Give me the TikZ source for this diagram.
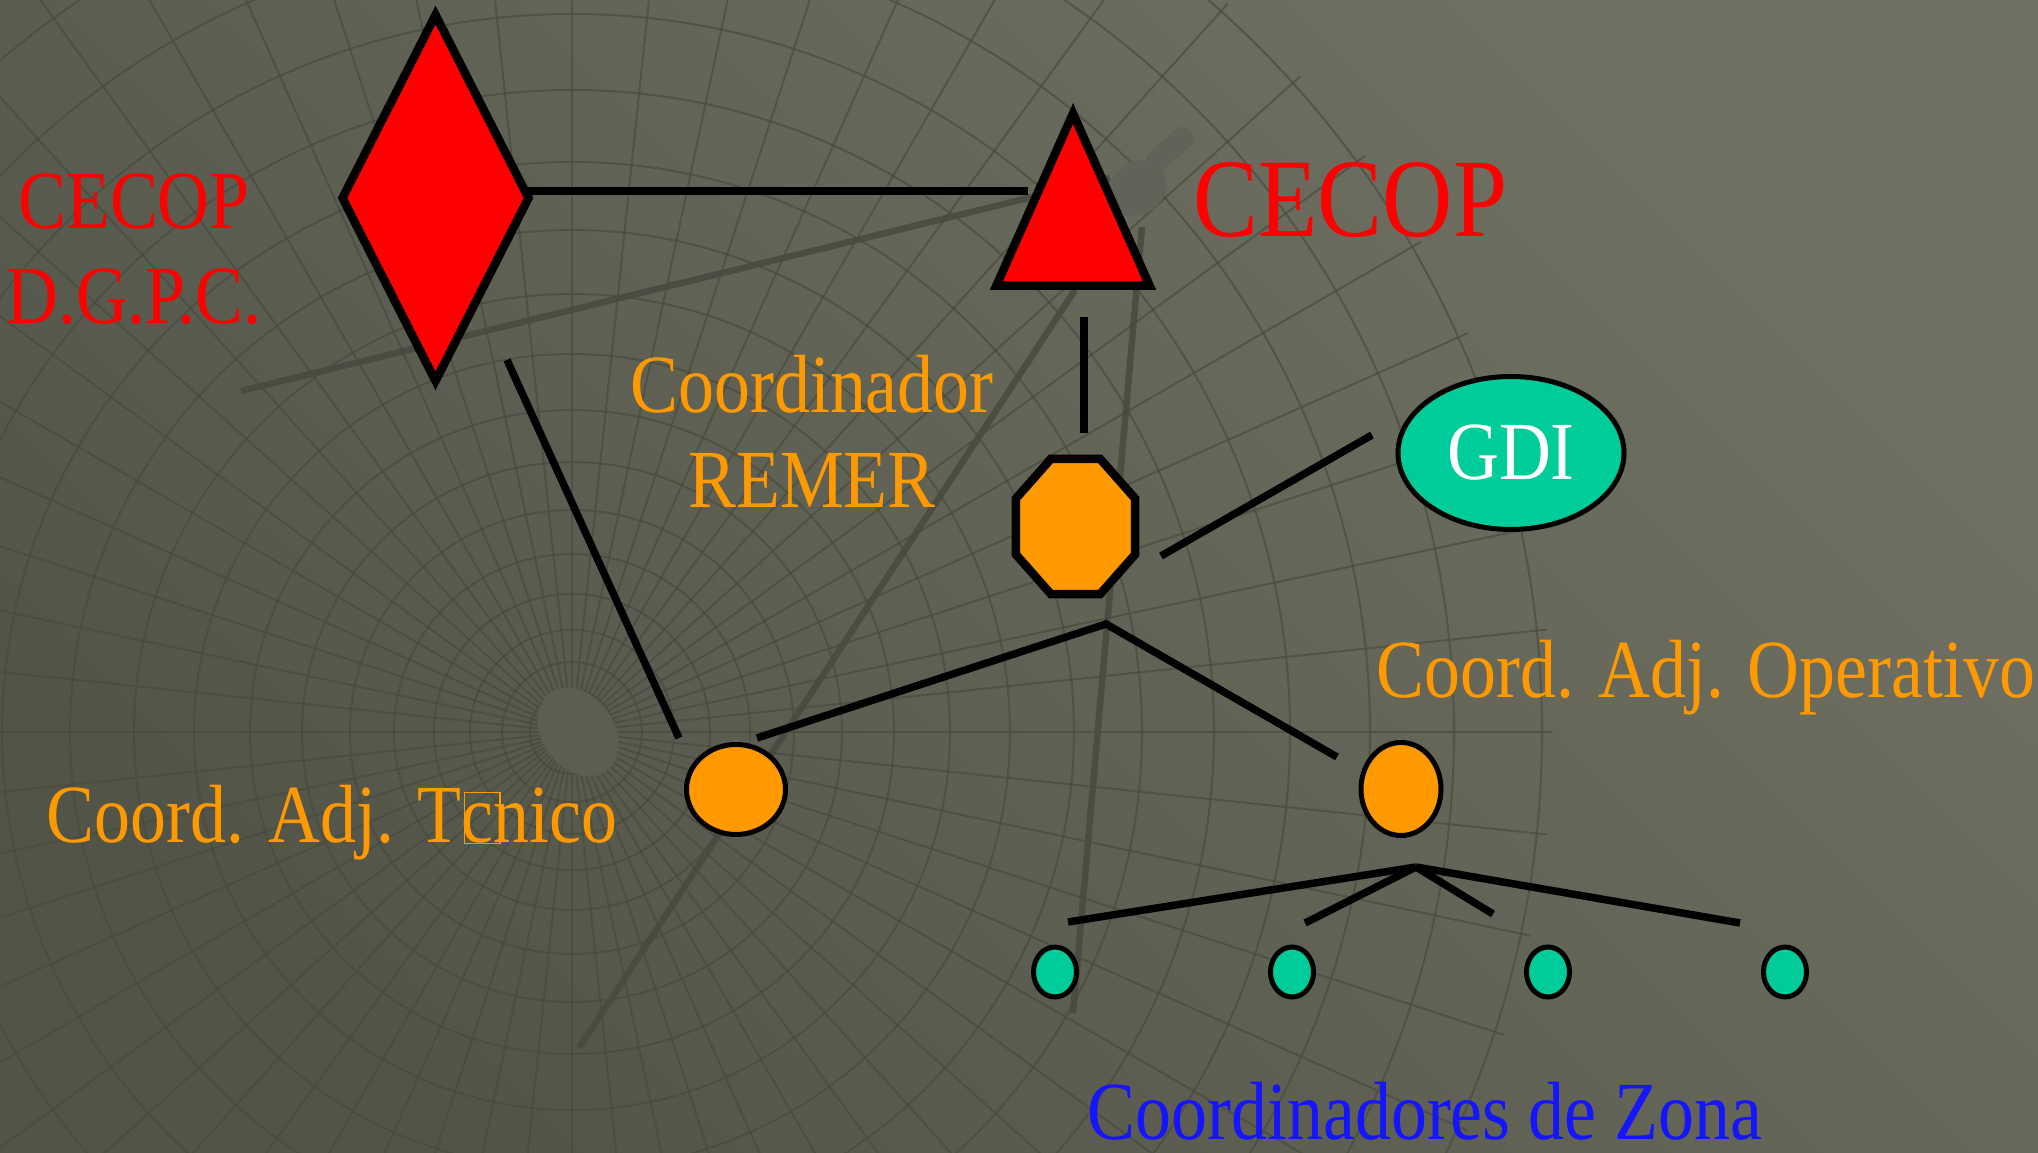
\documentclass[tikz,border=0pt]{standalone}
\usepackage{fontspec}
\setmainfont{Liberation Serif}[FakeStretch=0.87]
\usetikzlibrary{shapes.geometric}
\definecolor{bgdark}{RGB}{82,84,72}
\definecolor{bgmid}{RGB}{94,96,84}
\definecolor{bglight}{RGB}{112,113,98}
\definecolor{gridgray}{RGB}{72,74,63}
\definecolor{cecopred}{RGB}{255,0,0}
\definecolor{remerorange}{RGB}{255,153,0}
\definecolor{gditeal}{RGB}{0,204,153}
\definecolor{zonablue}{RGB}{20,20,255}
\definecolor{antgray}{RGB}{97,98,88}
\newcommand{\missingglyph}{\rlap{\kern0.02em\setlength{\fboxsep}{0pt}\setlength{\fboxrule}{0.35pt}\fbox{\rule{0pt}{0.6em}\rule{0.42em}{0pt}}}}
\tikzset{
  gridline/.style={draw=gridgray, line width=0.02cm, opacity=0.65},
  axisline/.style={draw=gridgray, line width=0.065cm, opacity=0.85},
  shapebox/.style={draw=black, line width=0.085cm, inner sep=0pt, outer sep=0pt},
  ovalbox/.style={ellipse, draw=black, line width=0.05cm, inner sep=0pt},
  link/.style={draw=black, line width=0.075cm},
  lbl/.style={inner sep=0pt, font=\fontsize{23.5}{27}\selectfont},
}
\begin{document}
\begin{tikzpicture}[x=1cm, y=-1cm]
  \useasboundingbox (0,0) rectangle (20.38,11.53);
  % background with the globe grid
  \shade[bottom color=bgdark, top color=bglight, shading angle=-45] (0,0) rectangle (20.38,11.53);
  \begin{scope}
    \clip (5.72,7.32) circle (9.8);
    \foreach \r in {0.42,0.7,1.02,1.38,1.78,2.22,2.7,3.22,3.78,4.38,5.02,5.7,6.42,7.18,7.98,8.82,9.7}
      \draw[gridline] (5.72,7.32) circle (\r);
    \foreach \a in {0,6,...,354}
      \draw[gridline] (5.72,7.32) -- ++(\a:11);
  \end{scope}
  \fill[bgmid!80!bgdark, rotate around={-55:(5.78,7.32)}] (5.78,7.32) ellipse (0.48 and 0.36);
  \draw[axisline] (2.41,3.91) -- (11.10,1.78);
  \draw[axisline] (5.79,10.48) -- (10.75,2.90);
  \draw[axisline] (11.42,2.27) -- (10.73,10.13);
  % antenna
  \fill[antgray, rounded corners=0.08cm] (11.572,1.753) -- (11.428,1.587) -- (11.828,1.237) -- (11.972,1.403) -- cycle;
  \fill[antgray, rotate around={41:(11.38,1.88)}] (11.38,1.88) ellipse (0.30 and 0.26);

  % shapes
  \node[shapebox, diamond, fill=cecopred, minimum width=1.86cm, minimum height=3.66cm] (dgpc) at (4.355,1.98) {};
  \node[shapebox, regular polygon, regular polygon sides=3, fill=cecopred, minimum size=1.77cm, yscale=1.297, transform shape] (cecop) at (10.73,2.283) {};
  \node[shapebox, regular polygon, regular polygon sides=8, fill=remerorange, minimum size=1.29cm, yscale=1.133, transform shape] (remer) at (10.755,5.265) {};
  \node[ovalbox, lbl, fill=gditeal, text=white, minimum width=2.26cm, minimum height=1.53cm] (gdi) at (15.11,4.53) {GDI};
  \node[ovalbox, fill=remerorange, minimum width=0.99cm, minimum height=0.90cm] (adjtec) at (7.36,7.895) {};
  \node[ovalbox, fill=remerorange, minimum width=0.80cm, minimum height=0.93cm] (adjop) at (14.01,7.89) {};
  \foreach \i/\x in {1/10.55,2/12.92,3/15.48,4/17.85}
    \node[ovalbox, fill=gditeal, minimum width=0.43cm, minimum height=0.50cm] (zona\i) at (\x,9.72) {};

  % connector ends
  \coordinate (dgpc-r) at (5.26,1.91);
  \coordinate (cecop-l) at (10.28,1.91);
  \coordinate (cecop-b) at (10.84,3.17);
  \coordinate (remer-t) at (10.84,4.33);
  \coordinate (remer-r) at (11.61,5.56);
  \coordinate (gdi-l) at (13.72,4.35);
  \coordinate (dgpc-b) at (5.07,3.60);
  \coordinate (adjtec-t) at (6.79,7.38);
  \coordinate (adjtec-r) at (7.57,7.38);
  \coordinate (adjop-l) at (13.37,7.57);
  \coordinate (remer-fork) at (11.06,6.24);
  \coordinate (zona-fork) at (14.16,8.67);
  \foreach \i/\x/\y in {1/10.68/9.22,2/13.05/9.23,3/14.93/9.14,4/17.40/9.23}
    \coordinate (zona\i-t) at (\x,\y);

  % connectors
  \draw[link] (dgpc-r) -- (cecop-l);
  \draw[link] (cecop-b) -- (remer-t);
  \draw[link] (remer-r) -- (gdi-l);
  \draw[link] (dgpc-b) -- (adjtec-t);
  \draw[link] (adjtec-r) -- (remer-fork) -- (adjop-l);
  \foreach \i in {1,...,4}
    \draw[link] (zona-fork) -- (zona\i-t);

  % labels
  \node[lbl, text=cecopred, align=center] (dgpc-lbl) at (1.34,2.495) {CECOP\\D.G.P.C.};
  \node[lbl, text=cecopred, anchor=base west, font=\fontsize{31.8}{36}\selectfont] (cecop-lbl) at (11.93,2.37) {CECOP};
  \node[lbl, text=remerorange, align=center] (remer-lbl) at (8.12,4.315) {Coordinador\\REMER};
  \node[lbl, text=remerorange, anchor=base west] (adjtec-lbl) at (0.46,8.43) {Coord. Adj. T\missingglyph cnico};
  \node[lbl, text=remerorange, anchor=base west] (adjop-lbl) at (13.76,6.98) {Coord. Adj. Operativo};
  \node[lbl, text=zonablue, anchor=base west] (zona-lbl) at (10.87,11.39) {Coordinadores de Zona};
\end{tikzpicture}
\end{document}
